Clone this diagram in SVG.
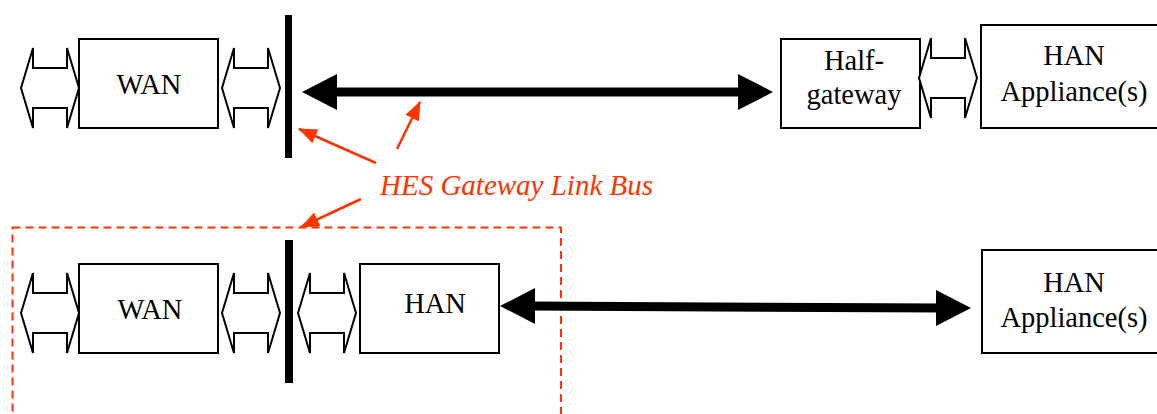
<svg xmlns="http://www.w3.org/2000/svg" width="1157" height="414" viewBox="0 0 1157 414">
  <style>
    .box { fill: #ffffff; stroke: #000000; stroke-width: 2; }
    .dbl { fill: #ffffff; stroke: #000000; stroke-width: 2; stroke-linejoin: miter; }
    .lbl { font-family: "Liberation Serif", "Times New Roman", serif; font-size: 28.5px; fill: #000000; text-anchor: middle; }
    .note { font-family: "Liberation Serif", "Times New Roman", serif; font-size: 29px; font-style: italic; fill: #ff3300; }
    .bus { fill: #000000; }
    .thick { stroke: #000000; stroke-width: 9; }
    .red { stroke: #ff3300; stroke-width: 2.5; fill: none; }
    .redhead { fill: #ff3300; }
  </style>
  <defs>
    <!-- hollow two-way block arrow, 58 wide x 80 high -->
    <path id="dblArrow" class="dbl" d="M0,40 L12,0 L12,20 L46,20 L46,0 L58,40 L46,80 L46,60 L12,60 L12,80 Z"/>
    <marker id="redTip" viewBox="0 0 19 15" refX="18" refY="7.5" markerWidth="19" markerHeight="15" markerUnits="userSpaceOnUse" orient="auto">
      <path class="redhead" d="M0,0 L19,7.5 L0,15 Z"/>
    </marker>
  </defs>

  <!-- red dashed frame around the combined gateway -->
  <rect id="gateway-frame" x="12.5" y="227.5" width="548.5" height="200" fill="none" stroke="#ff3300" stroke-width="2" stroke-dasharray="8,5"/>

  <!-- upper row: WAN + half-gateway -->
  <g id="wan-top">
    <rect class="box" x="79" y="39" width="139" height="89"/>
    <text class="lbl" x="149" y="94">WAN</text>
  </g>
  <g id="half-gateway">
    <rect class="box" x="781" y="39" width="139" height="89"/>
    <text class="lbl" x="854" y="70">Half-</text>
    <text class="lbl" x="854" y="104">gateway</text>
  </g>
  <g id="appliance-top">
    <rect class="box" x="981" y="25" width="190" height="103"/>
    <text class="lbl" x="1074" y="65">HAN</text>
    <text class="lbl" x="1074" y="101">Appliance(s)</text>
  </g>
  <g id="bus-top">
    <rect class="bus" x="285" y="15" width="7" height="143"/>
  </g>

  <!-- lower row: WAN + HAN in one gateway -->
  <g id="wan-bottom">
    <rect class="box" x="79" y="264" width="139" height="89"/>
    <text class="lbl" x="150" y="319">WAN</text>
  </g>
  <g id="han-bottom">
    <rect class="box" x="360" y="264" width="139" height="89"/>
    <text class="lbl" x="435" y="313">HAN</text>
  </g>
  <g id="appliance-bottom">
    <rect class="box" x="982" y="250" width="190" height="103"/>
    <text class="lbl" x="1074" y="292">HAN</text>
    <text class="lbl" x="1074" y="327">Appliance(s)</text>
  </g>
  <g id="bus-bottom">
    <rect class="bus" x="285" y="240" width="8" height="143"/>
  </g>

  <!-- connectors -->
  <g id="connectors">
    <use href="#dblArrow" x="21" y="48"/>
    <use href="#dblArrow" x="222" y="48"/>
    <use href="#dblArrow" x="919" y="38"/>
    <use href="#dblArrow" x="21" y="273"/>
    <use href="#dblArrow" x="222" y="273"/>
    <use href="#dblArrow" x="298" y="273"/>

    <!-- upper bold link -->
    <line class="thick" x1="330" y1="92" x2="745" y2="92"/>
    <path class="bus" d="M302,92 L337,74 L337,110 Z"/>
    <path class="bus" d="M773,92 L738,74 L738,110 Z"/>

    <!-- lower bold link -->
    <line class="thick" x1="528" y1="306" x2="943" y2="308" stroke-width="8"/>
    <path class="bus" d="M500,306 L535,288 L535,324 Z"/>
    <path class="bus" d="M971,308 L936,290 L936,326 Z"/>

    <!-- label pointers -->
    <line class="red" x1="376" y1="163" x2="299" y2="129" marker-end="url(#redTip)"/>
    <line class="red" x1="397" y1="149" x2="420" y2="102" marker-end="url(#redTip)"/>
    <line class="red" x1="361" y1="199" x2="301" y2="227" marker-end="url(#redTip)"/>
  </g>

  <text id="bus-label" class="note" x="380" y="195">HES Gateway Link Bus</text>
</svg>
